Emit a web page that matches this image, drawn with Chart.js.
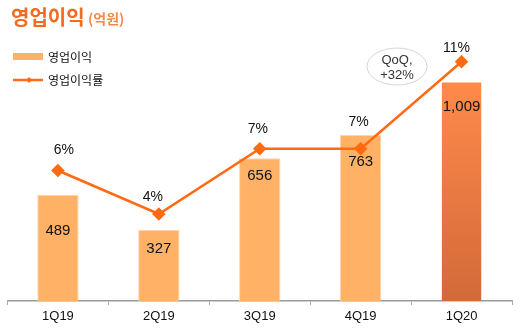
<!DOCTYPE html>
<html>
<head>
<meta charset="utf-8">
<script src="https://cdn.jsdelivr.net/npm/chart.js@4/dist/chart.umd.min.js"></script>
<style>
  html, body { margin: 0; padding: 0; background: #fff; }
  #wrap { position: relative; width: 524px; height: 330px; }
</style>
</head>
<body>
<div id="wrap"><canvas id="chart" width="524" height="330"></canvas></div>
<script>
// Data
const quarters = ["1Q19", "2Q19", "3Q19", "4Q19", "1Q20"];
const operatingProfit = [489, 327, 656, 763, 1009];
const profitMargin = [6, 4, 7, 7, 11];
const profitLabels = ["489", "327", "656", "763", "1,009"];
const marginLabels = ["6%", "4%", "7%", "7%", "11%"];

// label tweaks (pixels below bar top / above point)
const barLabelOffset = [36, 19, 18, 27, 25];
const lineLabelOffset = [[6, 20], [-6, 17], [-2, 20], [-2, 27], [-5, 14]];

const FONT = "'Liberation Sans', Arial, 'Noto Sans CJK KR', sans-serif";
const KFONT = "'Noto Sans CJK KR', 'Liberation Sans', sans-serif";
const ORANGE = "#ff6a13";
const BAR = "#ffb266";

function barColor(ctx) {
  if (ctx.dataIndex !== quarters.length - 1) return BAR;
  const area = ctx.chart.chartArea;
  if (!area) return "#f07d45";
  const g = ctx.chart.ctx.createLinearGradient(0, area.top + 40, 0, area.bottom);
  g.addColorStop(0, "#ff8a4a");
  g.addColorStop(1, "#d26a39");
  return g;
}

const overlay = {
  id: "overlay",
  afterDatasetsDraw(chart) {
    const c = chart.ctx;
    c.save();
    // bar value labels (dataset 1 is the bars)
    const bars = chart.getDatasetMeta(1).data;
    c.fillStyle = "#111";
    c.font = "15px " + FONT;
    c.textAlign = "center";
    c.textBaseline = "middle";
    bars.forEach((b, i) => c.fillText(profitLabels[i], b.x, b.y + barLabelOffset[i]));
    // margin labels
    const pts = chart.getDatasetMeta(0).data;
    c.font = "14px " + FONT;
    pts.forEach((p, i) => c.fillText(marginLabels[i], p.x + lineLabelOffset[i][0], p.y - lineLabelOffset[i][1]));

    // QoQ bubble
    c.beginPath();
    c.ellipse(397, 66.5, 30, 18.5, 0, 0, Math.PI * 2);
    c.fillStyle = "#fff";
    c.fill();
    c.strokeStyle = "#d4d4d4";
    c.lineWidth = 1;
    c.stroke();
    c.fillStyle = "#333";
    c.font = "13px " + FONT;
    c.fillText("QoQ,", 397, 60);
    c.fillText("+32%", 397, 75);

    // title
    c.textAlign = "left";
    c.textBaseline = "alphabetic";
    c.fillStyle = "#f26b21";
    c.font = "bold 20px " + KFONT;
    c.fillText("영업이익", 11, 25);
    c.fillStyle = "#f7884a";
    c.font = "bold 14px " + KFONT;
    c.fillText("(억원)", 88, 24);

    // legend
    c.fillStyle = BAR;
    c.fillRect(13, 53, 30, 7);
    c.strokeStyle = ORANGE;
    c.lineWidth = 2.5;
    c.beginPath();
    c.moveTo(13, 80);
    c.lineTo(43, 80);
    c.stroke();
    c.fillStyle = ORANGE;
    c.beginPath();
    c.moveTo(29, 77); c.lineTo(32, 80); c.lineTo(29, 83); c.lineTo(26, 80);
    c.closePath();
    c.fill();
    c.fillStyle = "#111";
    c.font = "12px " + KFONT;
    c.textBaseline = "middle";
    c.fillText("영업이익", 48, 57);
    c.fillText("영업이익률", 48, 80);
    c.restore();
  }
};

new Chart(document.getElementById("chart"), {
  data: {
    labels: quarters,
    datasets: [
      {
        type: "line",
        label: "영업이익률",
        data: profitMargin,
        yAxisID: "yPct",
        borderColor: ORANGE,
        backgroundColor: ORANGE,
        borderWidth: 2.5,
        pointStyle: "rectRot",
        pointRadius: 5,
        pointHoverRadius: 5,
        tension: 0,
        order: 0
      },
      {
        type: "bar",
        label: "영업이익",
        data: operatingProfit,
        yAxisID: "yAmt",
        backgroundColor: barColor,
        borderColor: ctx => ctx.dataIndex === quarters.length - 1 ? "rgba(0,0,0,0)" : "#ffd4a8",
        borderWidth: 1,
        borderSkipped: "bottom",
        barPercentage: 0.41,
        categoryPercentage: 1,
        order: 1
      }
    ]
  },
  options: {
    responsive: false,
    animation: false,
    devicePixelRatio: 1,
    layout: { padding: { left: 3, right: 12, top: 40, bottom: 0 } },
    plugins: { legend: { display: false }, tooltip: { enabled: false } },
    scales: {
      x: {
        offset: true,
        grid: { display: true, drawOnChartArea: false, color: "#aaa", tickLength: 4, offset: true },
        border: { display: true, color: "#999", width: 1.5 },
        ticks: { color: "#111", font: { size: 13, family: FONT }, padding: 4 },
        afterFit(scale) { scale.height = 29; }
      },
      yAmt: { display: false, min: 0, max: 1200 },
      yPct: { display: false, min: 0, max: 12 }
    }
  },
  plugins: [overlay]
});
</script>
</body>
</html>
